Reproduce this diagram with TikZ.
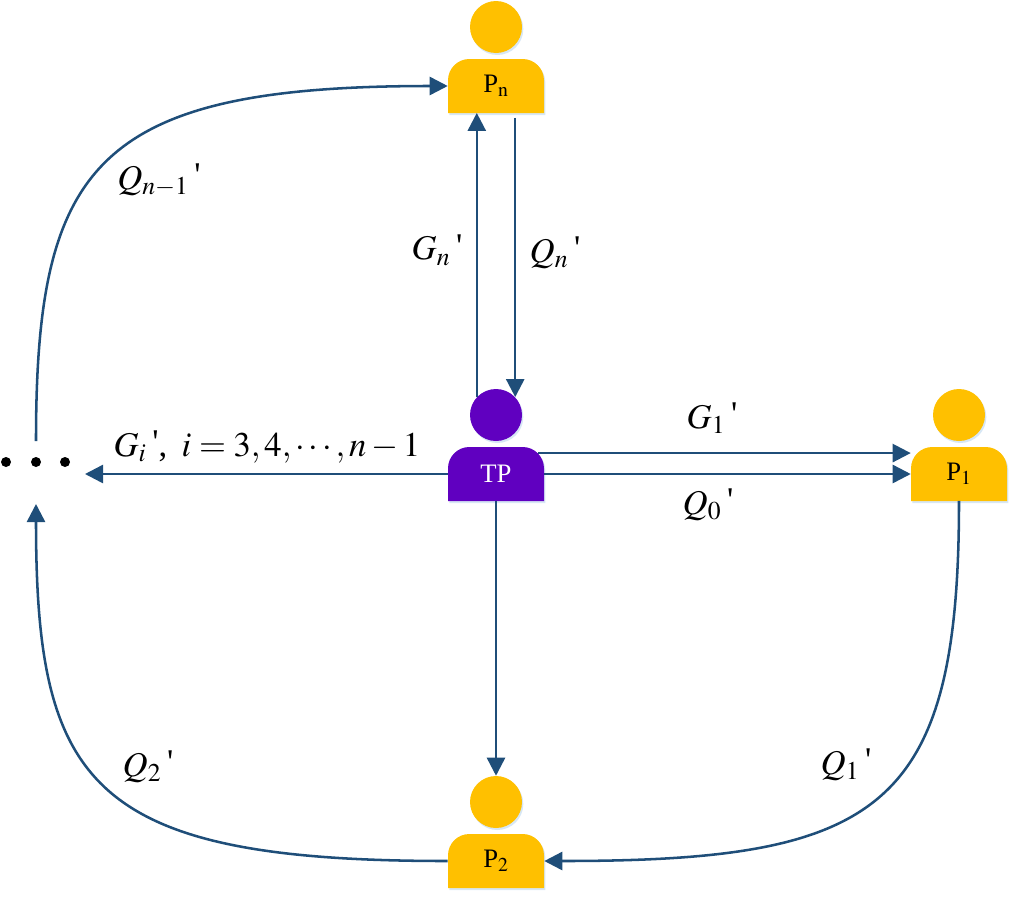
\documentclass[tikz,border=0pt]{standalone}
\usepackage{mathptmx}
\usepackage{fontspec}
\setmainfont{Liberation Serif}
\usetikzlibrary{arrows.meta,shadows,calc}
\definecolor{linkblue}{HTML}{1F4E79}
\definecolor{gold}{HTML}{FFC000}
\definecolor{violet}{HTML}{6000C0}
\definecolor{glow}{HTML}{BDD7EE}
\tikzset{
	link/.style={draw=linkblue,line width=1.9pt,-{Triangle[length=13.5pt,width=13.5pt]}},
	glowing/.style={drop shadow={shadow xshift=1pt,shadow yshift=-1.5pt,fill=glow,opacity=.6}},
	head/.style={circle,inner sep=0pt,minimum size=39pt,glowing},
	body/.style={inner sep=0pt,minimum width=72pt,minimum height=40pt,font=\fontsize{20}{20}\selectfont},
	lab/.style={inner sep=0pt,font=\fontsize{26}{26}\selectfont},
	blob/.style={circle,fill=black,inner sep=0pt,minimum size=7.5pt},
}
\newcommand{\person}[5]{
	\begin{scope}[shift={(#2,#3)}]
		\node[head,fill=#4] (#1head) at (0,-59) {};
		\fill[#4,glowing] (-48,27) [rounded corners=16pt] -- (-48,-27) -- (48,-27) [sharp corners] -- (48,27) -- cycle;
		\node[body] (#1) at (0,0) {#5};
	\end{scope}
}
\newcommand{\tick}{\,\raisebox{2pt}{\textquotesingle}}
\begin{document}
\begin{tikzpicture}[x=0.75pt,y=-0.75pt]
	\useasboundingbox (0,0) rectangle (1016,907);
	\person{pn}{496}{86}{gold}{P$_{\mathrm{n}}$}
	\person{tp}{496}{474}{violet}{\textcolor{white}{TP}}
	\person{pone}{959}{474}{gold}{P$_{1}$}
	\person{ptwo}{496}{861}{gold}{P$_{2}$}
	\node[blob] (dotl) at (6,462) {};
	\node[blob] (dotm) at (36,462) {};
	\node[blob] (dotr) at (65,462) {};
	\coordinate (gitip) at (85,474);
	\coordinate (upin) at (36,504);
	\coordinate (upout) at (36,441);
	% links around the ring
	\draw[link] (pone.south) .. controls (959,810) and (880,861) .. (ptwo.east);
	\draw[link] (ptwo.west) .. controls (90,861) and (36,785) .. (upin);
	\draw[link] (upout) .. controls (36,165) and (95,86) .. (pn.west);
	% links from the centre
	\draw[link] (tphead.137) -- (tphead.137 |- pn.south);
	\draw[link] ($(tphead.43 |- pn.south)+(0,5)$) -- (tphead.43);
	\draw[link] ($(tp.north east)+(-6,6)$) -- ($(pone.north west)+(0,6)$);
	\draw[link] (tp.east) -- (pone.west);
	\draw[link] (tp.west) -- (gitip);
	\draw[link] (tp.south) -- (ptwohead.north);
	% labels
	\node[lab] (lgn) at (437,250) {$G_{n}$\tick};
	\node[lab] (lqn) at (555,253) {$Q_{n}$\tick};
	\node[lab] (lqm) at (159,180) {$Q_{n{-}1}$\tick};
	\node[lab] (lgo) at (712,418) {$G_{1}$\tick};
	\node[lab] (lqz) at (708,505) {$Q_{0}$\tick};
	\node[lab] (lgi) at (267,447) {$G_{i}$\tick,\ \,$i=3,4,\cdots,n-1$};
	\node[lab] (lqt) at (148,767) {$Q_{2}$\tick};
	\node[lab] (lqo) at (846,765) {$Q_{1}$\tick};
\end{tikzpicture}
\end{document}
